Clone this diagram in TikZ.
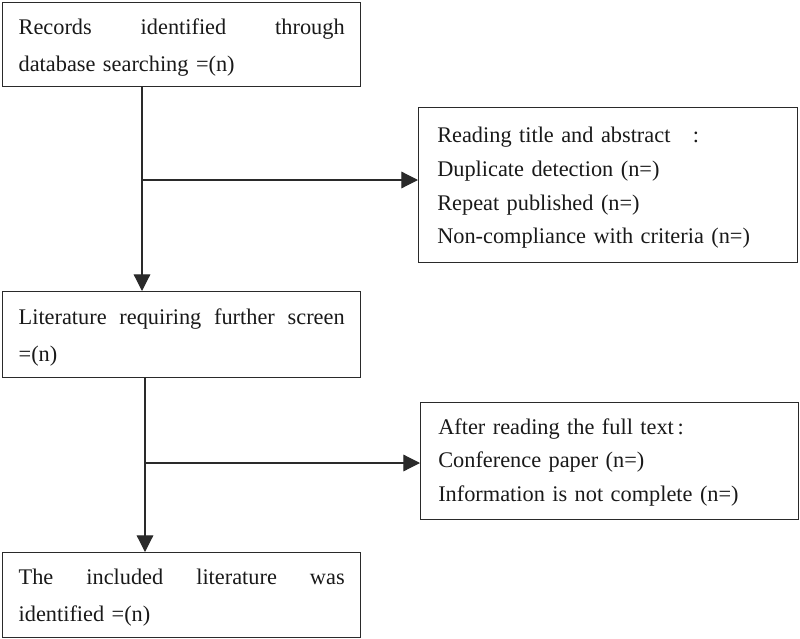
\documentclass[tikz,border=0pt]{standalone}
\usepackage{fontspec}
\setmainfont{Liberation Serif}
\usetikzlibrary{arrows.meta,positioning}
\definecolor{ink}{HTML}{2A2A2A}
\tikzset{
  boxframe/.style={draw=ink, line width=1pt, rectangle, anchor=north west, inner sep=0pt},
  lefttext/.style={text width=244.5pt, align=left, font=\fontsize{16.75}{27.75}\selectfont, text=black!90, inner sep=0pt},
  righttext/.style={text width=270pt, align=left, font=\fontsize{16.75}{25.2}\selectfont, text=black!90, inner sep=0pt, anchor=west},
  arr/.style={draw=ink, line width=0.9pt, -{Triangle[length=12.5pt,width=12.5pt]}}
}
\begin{document}
\begin{tikzpicture}[x=0.75pt,y=-0.75pt]
\useasboundingbox (0,0) rectangle (800,639);
% left column boxes
\node[boxframe, minimum width=268.5pt, minimum height=63pt] (b1) at (2,2) {};
\node[lefttext] (t1) at ([yshift=-2.5pt]b1.center)
  {Records\hfill identified\hfill through\\database searching =(n)};
\node[boxframe, minimum width=268.5pt, minimum height=64.5pt] (b2) at (2,291) {};
\node[lefttext] (t2) at ([yshift=-2pt]b2.center)
  {Literature\hfill requiring\hfill further\hfill screen\\=(n)};
\node[boxframe, minimum width=268.5pt, minimum height=63.75pt] (b3) at (2,552) {};
\node[lefttext] (t3) at ([yshift=-2pt]b3.center)
  {The\hfill included\hfill literature\hfill was\\identified =(n)};
% right boxes
\node[boxframe, minimum width=284.25pt, minimum height=116.25pt] (r1) at (418,107) {};
\node[righttext] (rt1) at ([xshift=14.25pt,yshift=-2pt]r1.west)
  {Reading title and abstract \ \ :\\Duplicate detection (n=)\\Repeat published (n=)\\Non-compliance with criteria (n=)};
\node[boxframe, minimum width=283.5pt, minimum height=87.75pt] (r2) at (420,402) {};
\node[righttext] (rt2) at ([xshift=13.5pt,yshift=-1pt]r2.west)
  {After reading the full text\,:\\Conference paper (n=)\\Information is not complete (n=)};
% connectors
\coordinate (j1) at (142,180);
\coordinate (j2) at (145,463);
\draw[arr] (b1.south -| j1) -- (b2.north -| j1);
\draw[arr] ([xshift=0.75pt]j1) -- (r1.west |- j1);
\draw[arr] (b2.south -| j2) -- (b3.north -| j2);
\draw[arr] ([xshift=0.75pt]j2) -- (r2.west |- j2);
\end{tikzpicture}
\end{document}
